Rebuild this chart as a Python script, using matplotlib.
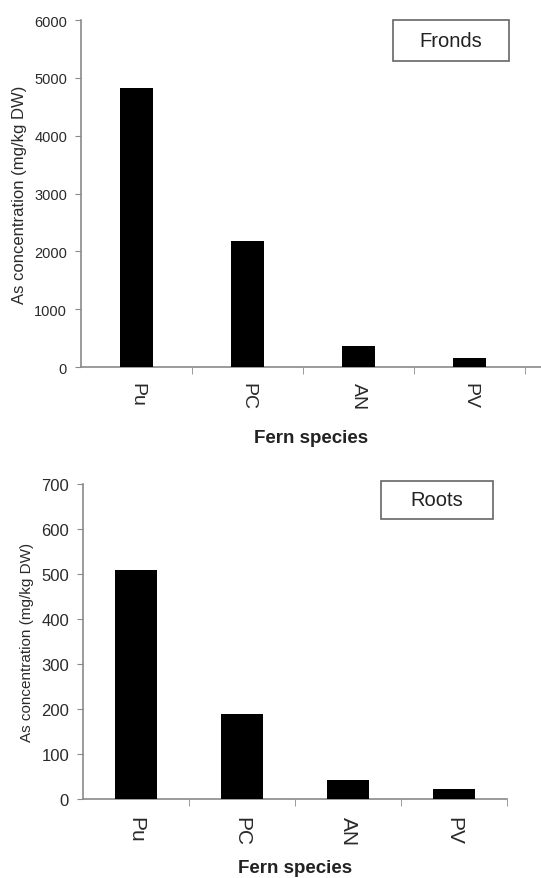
import matplotlib.pyplot as plt
from matplotlib.patches import Rectangle

plt.rcParams['font.family'] = ['Liberation Sans', 'DejaVu Sans']

species = ['Pu', 'PC', 'AN', 'PV']
fronds = [4820, 2180, 360, 155]
roots = [509, 189, 42, 22]

AXIS_GREY = '#8a8a8a'
TEXT_GREY = '#2a2a2a'


def draw_panel(ax, values, width, ymax, ystep, xmax, box, label, sizes):
    xt_size, yt_size, ylab_size, xt_pad, xlab_pad = sizes
    x = range(len(species))
    ax.bar(x, values, width=width, color='black', zorder=3)
    ax.set_xlim(-0.5, xmax)
    ax.set_ylim(0, ymax)
    ax.set_yticks(range(0, ymax + 1, ystep))
    ax.set_xticks(list(x))
    ax.set_xticklabels(species, rotation=270, fontsize=xt_size, color=TEXT_GREY)
    ax.set_xticks([i + 0.5 for i in x], minor=True)
    ax.tick_params(axis='x', which='major', length=0, pad=xt_pad)
    ax.tick_params(axis='x', which='minor', length=5, color=AXIS_GREY, direction='out')
    ax.tick_params(axis='y', length=4, color=AXIS_GREY, labelsize=yt_size,
                   labelcolor=TEXT_GREY, pad=6)
    for s in ['top', 'right']:
        ax.spines[s].set_visible(False)
    for s in ['left', 'bottom']:
        ax.spines[s].set_color(AXIS_GREY)
        ax.spines[s].set_linewidth(1.2)
    ax.set_ylabel('As concentration (mg/kg DW)', fontsize=ylab_size, color=TEXT_GREY,
                  labelpad=5)
    ax.set_xlabel('Fern species', fontsize=13.5, fontweight='bold', color='#222222',
                  labelpad=xlab_pad)
    x0, x1, y0, y1 = box
    ax.add_patch(Rectangle((x0, y0), x1 - x0, y1 - y0, transform=ax.transAxes,
                           facecolor='white', edgecolor='#666666', linewidth=1.2,
                           clip_on=False, zorder=4))
    ax.text((x0 + x1) / 2, (y0 + y1) / 2, label, transform=ax.transAxes,
            ha='center', va='center', fontsize=14.5, color='#222222', zorder=5)


fig = plt.figure(figsize=(5.41, 8.79), dpi=100)
ax1 = fig.add_axes([0.1497, 0.5813, 0.8503, 0.3948])
ax2 = fig.add_axes([0.1534, 0.0899, 0.7837, 0.3584])

draw_panel(ax1, fronds, 0.3, 6000, 1000, 3.644, (0.678, 0.930, 0.882, 1.0), 'Fronds',
           (14, 10.5, 12, 11, 14))
draw_panel(ax2, roots, 0.4, 700, 100, 3.5, (0.703, 0.967, 0.889, 1.0095), 'Roots',
           (15, 12, 11, 12, 10))

fig.savefig('out.png', dpi=100)
